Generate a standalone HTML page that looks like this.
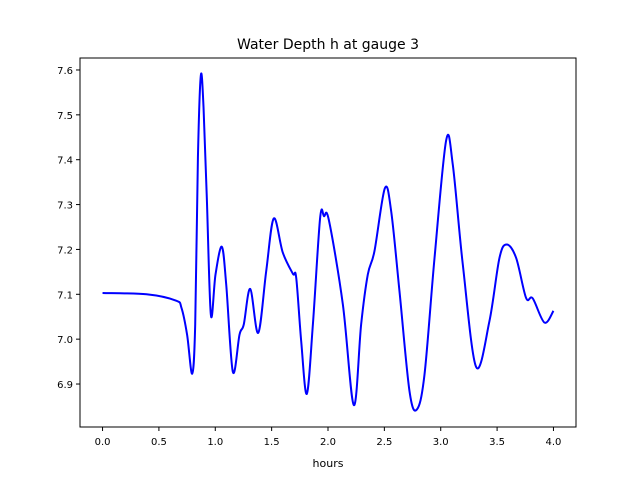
<!DOCTYPE html>
<html><head><meta charset="utf-8"><style>
body{margin:0;background:#fff;font-family:"Liberation Sans","DejaVu Sans",sans-serif}
svg text{font-family:"DejaVu Sans","Liberation Sans",sans-serif}
</style></head><body>
<svg id="chart" width="640" height="480" viewBox="0 0 640 480" xmlns="http://www.w3.org/2000/svg">
<rect width="640" height="480" fill="#fff"/>
<text x="328" y="49" font-size="14" text-anchor="middle">Water Depth h at gauge 3</text>
<g id="axes"></g>
<text x="328" y="467" font-size="11" text-anchor="middle">hours</text>
</svg>
<script>
const hours=[0,0.39,0.65,0.70,0.75,0.795,0.822,0.846,0.872,0.896,0.925,0.961,1.002,1.058,1.097,1.156,1.215,1.253,1.310,1.381,1.452,1.519,1.599,1.688,1.718,1.762,1.812,1.866,1.93,1.965,2.008,2.132,2.229,2.294,2.353,2.412,2.504,2.560,2.634,2.723,2.788,2.856,2.945,3.048,3.107,3.196,3.314,3.432,3.521,3.586,3.669,3.757,3.816,3.920,4.000];
const depth=[7.103,7.100,7.086,7.070,7.010,6.923,7.033,7.404,7.588,7.516,7.315,7.054,7.144,7.206,7.122,6.927,7.010,7.033,7.112,7.014,7.152,7.269,7.193,7.146,7.137,6.996,6.878,7.033,7.270,7.274,7.265,7.077,6.853,7.033,7.144,7.196,7.336,7.286,7.107,6.884,6.843,6.921,7.181,7.443,7.389,7.166,6.938,7.040,7.181,7.211,7.181,7.092,7.091,7.037,7.063];
const xTicks=[0,0.5,1,1.5,2,2.5,3,3.5,4];
const yTicks=[6.9,7.0,7.1,7.2,7.3,7.4,7.5,7.6];
const L=80,R=576,T=58,B=427;
const xMin=-0.2,xMax=4.2,yMin=6.8042,yMax=7.6267;
const sx=v=>L+(v-xMin)/(xMax-xMin)*(R-L);
const sy=v=>B-(v-yMin)/(yMax-yMin)*(B-T);
const NS="http://www.w3.org/2000/svg";
const g=document.getElementById('axes');
function mk(t,a){const e=document.createElementNS(NS,t);for(const k in a)e.setAttribute(k,a[k]);g.appendChild(e);return e;}
const P=hours.map((h,i)=>[sx(h),sy(depth[i])]);
let d="M"+P[0][0]+","+P[0][1];
for(let i=0;i<P.length-1;i++){
 const p0=P[Math.max(0,i-1)],p1=P[i],p2=P[i+1],p3=P[Math.min(P.length-1,i+2)];
 const c1=[p1[0]+(p2[0]-p0[0])/6,p1[1]+(p2[1]-p0[1])/6];
 const c2=[p2[0]-(p3[0]-p1[0])/6,p2[1]-(p3[1]-p1[1])/6];
 d+=` C${c1[0]},${c1[1]} ${c2[0]},${c2[1]} ${p2[0]},${p2[1]}`;
}
const line=mk('path',{d:d,fill:'none',stroke:'#0000ff','stroke-width':2,'stroke-linejoin':'round'});


const frame=mk('rect',{x:L,y:T,width:R-L,height:B-T,fill:'none',stroke:'#000','stroke-width':1});


xTicks.forEach(v=>{
 const x=sx(v);
 const tk=mk('line',{x1:x,x2:x,y1:B,y2:B+4,stroke:'#000'});
 
 
 const t=mk('text',{x:x,y:B+18,'font-size':10,'text-anchor':'middle'});
 t.textContent=v.toFixed(1);
 
 
});
yTicks.forEach(v=>{
 const y=sy(v);
 const tk=mk('line',{x1:L-4,x2:L,y1:y,y2:y,stroke:'#000'});
 
 
 const t=mk('text',{x:L-7,y:y+4,'font-size':10,'text-anchor':'end'});
 t.textContent=v.toFixed(1);
 
 
});
</script>
</body></html>
